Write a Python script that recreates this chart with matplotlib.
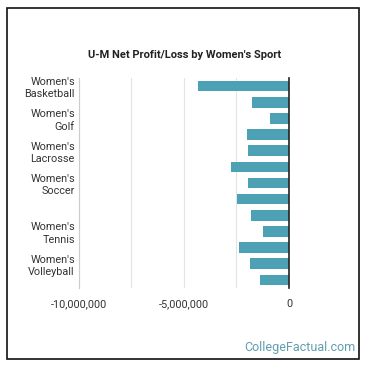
import matplotlib.pyplot as plt
from matplotlib.patches import Rectangle
from matplotlib.ticker import FuncFormatter, MultipleLocator

plt.rcParams['font.family'] = ['Roboto', 'DejaVu Sans']

# sports in chart order (top to bottom), only some names get a tick label
sports = ["Women's Basketball", "Women's Field Hockey", "Women's Golf",
          "Women's Gymnastics", "Women's Lacrosse", "Women's Rowing",
          "Women's Soccer", "Women's Softball", "Women's Swimming and Diving",
          "Women's Tennis", "Women's Track and Field", "Women's Volleyball",
          "Women's Water Polo"]
net_profit = [-4310000, -1770000, -910000, -2010000, -1960000, -2780000,
              -1960000, -2490000, -1820000, -1240000, -2390000, -1870000,
              -1390000]
shown_labels = {"Women's Basketball": "Women's\nBasketball",
                "Women's Golf": "Women's\nGolf",
                "Women's Lacrosse": "Women's\nLacrosse",
                "Women's Soccer": "Women's\nSoccer",
                "Women's Tennis": "Women's\nTennis",
                "Women's Volleyball": "Women's\nVolleyball"}

fig = plt.figure(figsize=(3.7, 3.7), dpi=100)
ax = fig.add_axes([0.2135, 0.2216, 0.5675, 0.5676])

ypos = list(range(len(sports)))
ax.barh(ypos, net_profit, height=0.66, color='#4da1b5', zorder=3)

ax.set_ylim(len(sports) - 0.5, -0.5)
ax.set_xlim(-10000000, 0)
ax.xaxis.set_major_locator(MultipleLocator(5000000))
ax.xaxis.set_minor_locator(MultipleLocator(2500000))
ax.xaxis.set_major_formatter(FuncFormatter(lambda v, p: f"{int(v):,}"))
ax.grid(axis='x', which='both', color='#e3e3e3', linewidth=0.8, zorder=0)

lab_pos = [i for i, s in enumerate(sports) if s in shown_labels]
ax.set_yticks(lab_pos)
ax.set_yticklabels([shown_labels[sports[i]] for i in lab_pos], fontsize=7.8,
                   color='#333333', linespacing=1.3, multialignment='right')
ax.tick_params(axis='y', length=0, pad=3)
ax.tick_params(axis='x', which='both', length=0, labelsize=7.8,
               labelcolor='#333333', pad=8)

for s in ['top', 'bottom']:
    ax.spines[s].set_visible(False)
ax.spines['left'].set_color('#cccccc')
ax.spines['left'].set_linewidth(0.8)
ax.spines['right'].set_color('#222222')
ax.spines['right'].set_linewidth(1.2)
ax.spines['right'].set_zorder(4)

fig.text(0.5, 0.851, "U-M Net Profit/Loss by Women's Sport", ha='center',
         va='center', fontsize=8, fontweight='bold', color='#222222')
fig.text(0.96, 0.06, "CollegeFactual.com", ha='right', va='center',
         fontsize=9, color='#5f9fae')

fig.patches.append(Rectangle((7 / 370, 11 / 370), 352 / 370, 351 / 370,
                             transform=fig.transFigure, fill=False,
                             edgecolor='#111111', linewidth=1.2))

fig.savefig('out.png', dpi=100)
